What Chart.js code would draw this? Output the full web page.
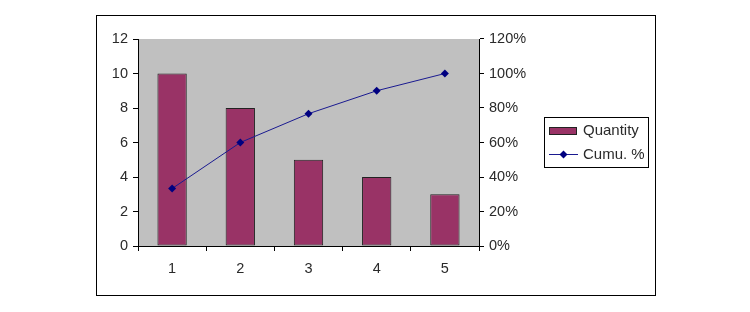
<!DOCTYPE html>
<html>
<head>
<meta charset="utf-8">
<script src="https://cdn.jsdelivr.net/npm/chart.js@4/dist/chart.umd.min.js"></script>
<style>
html,body{margin:0;padding:0;background:#fff;}
#wrap{width:750px;height:312px;position:relative;}
</style>
</head>
<body>
<div id="wrap"><canvas id="c" width="750" height="312"></canvas></div>
<script>
const categories = ['1','2','3','4','5'];
const quantity = [10, 8, 5, 4, 3];
const cumuPct = [0.333, 0.60, 0.767, 0.90, 1.00];
const leftTicks = [0, 2, 4, 6, 8, 10, 12];
const rightTicks = ['0%','20%','40%','60%','80%','100%','120%'];

const FONT = {family: '"Liberation Sans", Arial, sans-serif', size: 14.5};
const TEXT_COLOR = '#2a2a2a';
const BAR_COLOR = '#993366';
const LINE_COLOR = '#1a1a90';
const POINT_COLOR = '#000080';

const decor = {
  id: 'decor',
  beforeDraw(chart) {
    const {ctx, chartArea: a} = chart;
    ctx.save();
    ctx.fillStyle = '#fff';
    ctx.fillRect(0, 0, chart.width, chart.height);
    ctx.fillStyle = '#c0c0c0';
    ctx.fillRect(a.left, a.top, a.right - a.left, a.bottom - a.top);
    ctx.restore();
  },
  afterDraw(chart) {
    const {ctx} = chart;
    ctx.save();
    ctx.strokeStyle = '#000';
    ctx.lineWidth = 1;
    ctx.strokeRect(96.5, 15.5, 559, 280);
    // legend
    ctx.strokeRect(544.5, 117.5, 104, 50);
    ctx.fillStyle = BAR_COLOR;
    ctx.fillRect(549, 127, 28, 8);
    ctx.strokeStyle = '#222';
    ctx.strokeRect(549.5, 127.5, 27, 7);
    ctx.strokeStyle = LINE_COLOR;
    ctx.beginPath();
    ctx.moveTo(549, 154.5);
    ctx.lineTo(578, 154.5);
    ctx.stroke();
    ctx.fillStyle = POINT_COLOR;
    ctx.beginPath();
    ctx.moveTo(563.5, 150.5);
    ctx.lineTo(567.5, 154.5);
    ctx.lineTo(563.5, 158.5);
    ctx.lineTo(559.5, 154.5);
    ctx.closePath();
    ctx.fill();
    ctx.fillStyle = TEXT_COLOR;
    ctx.font = '15px "Liberation Sans", Arial, sans-serif';
    ctx.textBaseline = 'middle';
    ctx.fillText('Quantity', 583, 131);
    ctx.fillText('Cumu. %', 583, 155);
    ctx.restore();
  }
};

new Chart(document.getElementById('c'), {
  type: 'bar',
  data: {
    labels: categories,
    datasets: [
      {
        type: 'line',
        label: 'Cumu. %',
        data: cumuPct,
        yAxisID: 'y1',
        borderColor: LINE_COLOR,
        backgroundColor: POINT_COLOR,
        borderWidth: 1,
        pointStyle: 'rectRot',
        pointRadius: 4,
        pointBorderWidth: 0,
        tension: 0,
        order: 0
      },
      {
        label: 'Quantity',
        data: quantity,
        yAxisID: 'y',
        backgroundColor: BAR_COLOR,
        borderColor: '#222',
        borderWidth: 1,
        borderSkipped: false,
        categoryPercentage: 1,
        barPercentage: 0.43,
        order: 1
      }
    ]
  },
  options: {
    responsive: false,
    animation: false,
    devicePixelRatio: 1,
    layout: {padding: {top: 39, left: 0, right: 0, bottom: 0}},
    plugins: {legend: {display: false}, tooltip: {enabled: false}},
    scales: {
      x: {
        afterFit(s) { s.height = 66; },
        grid: {display: true, drawOnChartArea: false, drawTicks: true, tickLength: 5, color: '#000', offset: true},
        border: {display: true, color: '#000', width: 1},
        ticks: {color: TEXT_COLOR, font: FONT, padding: 9}
      },
      y: {
        position: 'left',
        min: 0, max: 12,
        afterFit(s) { s.width = 138; },
        afterBuildTicks(s) { s.ticks = leftTicks.map(v => ({value: v})); },
        grid: {display: true, drawOnChartArea: false, drawTicks: true, tickLength: 5, color: '#000'},
        border: {display: true, color: '#000', width: 1},
        ticks: {color: TEXT_COLOR, font: FONT, padding: 5}
      },
      y1: {
        position: 'right',
        min: 0, max: 1.2,
        afterFit(s) { s.width = 271; },
        afterBuildTicks(s) { s.ticks = rightTicks.map((t, i) => ({value: i * 0.2})); },
        grid: {display: true, drawOnChartArea: false, drawTicks: true, tickLength: 5, color: '#000'},
        border: {display: true, color: '#000', width: 1},
        ticks: {color: TEXT_COLOR, font: FONT, padding: 5, callback: (v, i) => rightTicks[i]}
      }
    }
  },
  plugins: [decor]
});
</script>
</body>
</html>
